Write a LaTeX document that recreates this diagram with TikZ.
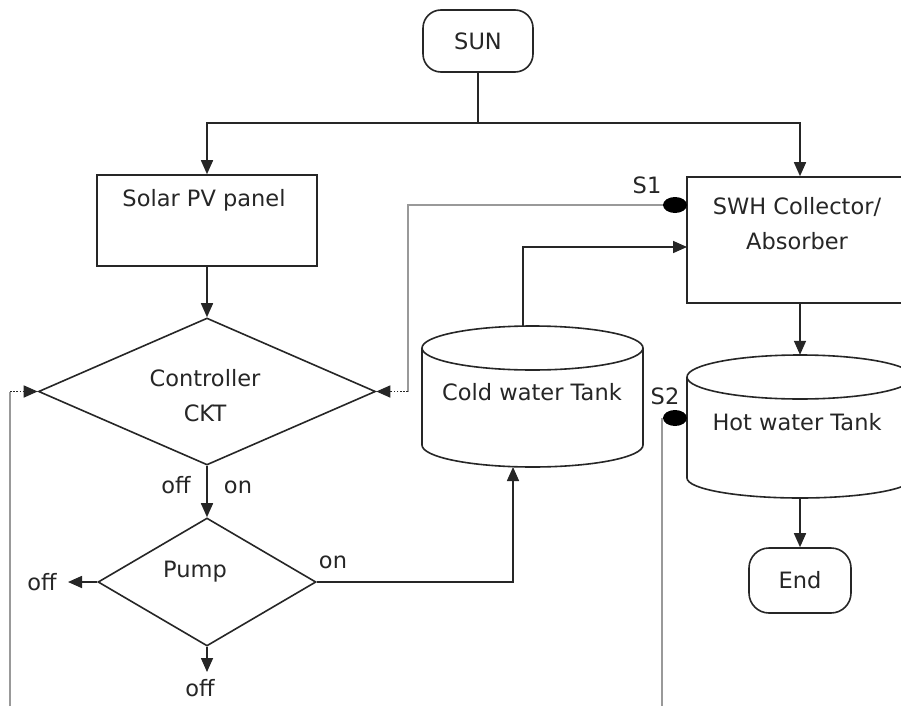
\documentclass[tikz,border=0pt]{standalone}
\usepackage{fontspec}
\setmainfont{DejaVu Sans}
\usetikzlibrary{shapes.geometric,arrows.meta}
\begin{document}
\begin{tikzpicture}[x=1pt,y=-1pt,
  ln/.style={draw=black!85, line width=1.6pt},
  arr/.style={ln, -{Triangle[length=14pt,width=12pt]}},
  sens/.style={draw=black!40, line width=1.4pt},
  dotl/.style={draw=black!85, line width=1.6pt, dash pattern=on 1.6pt off 1.6pt, -{Triangle[length=14pt,width=12pt]}},
  box/.style={draw=black!85, line width=1.6pt, rectangle, inner sep=0pt},
  term/.style={box, rounded corners=18pt},
  dec/.style={diamond, draw=black!85, line width=1.6pt, inner sep=0pt},
  txt/.style={font=\fontsize{22.5}{35}\selectfont, text=black!85, inner sep=0pt, align=center},
  sdot/.style={ellipse, fill=black, minimum width=24pt, minimum height=16pt, inner sep=0pt},
  tank/.style={inner sep=0pt}]
\fill[white] (0,0) rectangle (901,706);
\useasboundingbox (0,0) rectangle (901,706);
\clip (0,0) rectangle (901,706);

% nodes
\node[term, txt, minimum width=110pt, minimum height=62pt] (sun) at (478,41) {SUN};
\node[box, minimum width=220pt, minimum height=91pt] (pv) at (207,220.5) {};
\node[txt] (pvt) at (204,200) {Solar PV panel};
\node[box, minimum width=226pt, minimum height=126pt] (swh) at (800,240) {};
\node[txt] (swht) at (797,224) {SWH Collector/\\Absorber};
\node[dec, minimum width=337pt, minimum height=147pt] (ctrl) at (207,391.5) {};
\node[txt] (ctrlt) at (205,396) {Controller\\CKT};
\node[dec, minimum width=218pt, minimum height=128pt] (pump) at (207,582) {};
\node[txt] (pumpt) at (195,572) {Pump};

% cold water tank
\node[tank, minimum width=221pt, minimum height=141pt] (cold) at (532.5,396.5) {};
\draw[ln] (532.5,348) ellipse [x radius=110.5pt, y radius=22pt];
\draw[ln] (422,348) -- (422,445) arc[start angle=180, end angle=360, x radius=110.5pt, y radius=22pt] -- (643,348);
\node[txt] (coldt) at (532,392) {Cold water Tank};

% hot water tank
\node[tank, minimum width=226pt, minimum height=143pt] (hot) at (800,426.5) {};
\draw[ln] (800,377) ellipse [x radius=113pt, y radius=22pt];
\draw[ln] (687,377) -- (687,478) arc[start angle=180, end angle=360, x radius=113pt, y radius=20pt] -- (913,377);
\node[txt] (hott) at (797,422) {Hot water Tank};

\node[term, txt, rounded corners=20pt, minimum width=102pt, minimum height=65pt] (end) at (800,580.5) {End};

% sensors
\node[sdot] (s1) at (675,205) {};
\node[txt] (s1t) at (647,185) {S1};
\node[sdot] (s2) at (675,418) {};
\node[txt] (s2t) at (665,396) {S2};

% labels
\node[txt] (l1) at (176,485) {off};
\node[txt] (l2) at (238,487) {on};
\node[txt] (l3) at (333,562) {on};
\node[txt] (l4) at (42,582) {off};
\node[txt] (l5) at (200,688) {off};

% coordinates
\coordinate (split) at (478,123);
\coordinate (offL) at (68,582);
\coordinate (offB) at (207,672);
\coordinate (cb) at (513,467);
\coordinate (ct) at (523,326);
\coordinate (swhin) at (687,247);
\coordinate (s1c) at (408,205);
\coordinate (s1d) at (408,391.5);
\coordinate (lb) at (10,706);
\coordinate (lt) at (10,391.5);
\coordinate (s2a) at (662,418);
\coordinate (s2b) at (662,706);

% connectors
\draw[ln] (sun.south) -- (split);
\draw[arr] (split) -| (pv.north);
\draw[arr] (split) -| (swh.north);
\draw[arr] (pv.south) -- (ctrl.north);
\draw[arr] (ctrl.south) -- (pump.north);
\draw[arr] (pump.west) -- (offL);
\draw[arr] (pump.south) -- (offB);
\draw[arr] (pump.east) -| (cb);
\draw[arr] (ct) |- (swhin);
\draw[arr] (swh.south) -- (hot.north);
\draw[arr] (hot.south) -- (end.north);
\draw[sens] (s1.west) -- (s1c) -- (s1d);
\draw[dotl] (s1d) -- (ctrl.east);
\draw[sens] (lb) -- (lt);
\draw[dotl] (lt) -- (ctrl.west);
\draw[sens] (s2a) -- (s2b);
\end{tikzpicture}
\end{document}
